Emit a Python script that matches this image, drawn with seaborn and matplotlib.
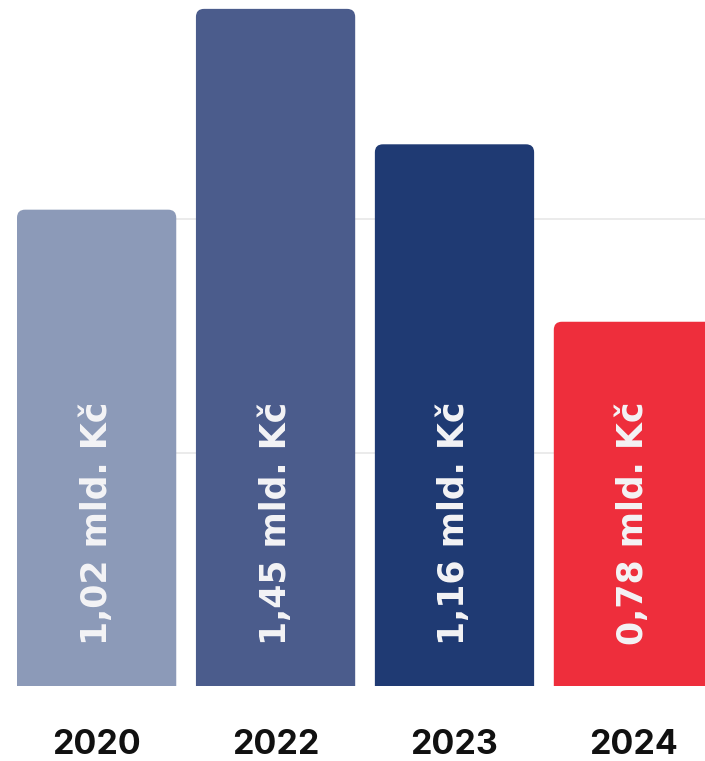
import matplotlib
matplotlib.use("Agg")
import matplotlib.pyplot as plt
import pandas as pd
import seaborn as sns
from matplotlib.patches import FancyBboxPatch

# values (bilions CZK)
years = ['2020', '2022', '2023', '2024']
values = [1.02, 1.45, 1.16, 0.78]
labels = ['1,02 mld. Kč', '1,45 mld. Kč', '1,16 mld. Kč', '0,78 mld. Kč']
colors = ['#8c9ab8', '#4b5c8c', '#1f3a73', '#ee2e3c']
grid_levels = [0.5, 1.0]

df = pd.DataFrame({'year': years, 'value': values})

sns.set_style('white')
plt.rcParams['font.family'] = ['DejaVu Sans']

fig = plt.figure(figsize=(7.05, 7.61), dpi=100)
ax = fig.add_axes([0, 75 / 761, 1, 686 / 761])

sns.barplot(data=df, x='year', y='value', hue='year',
            palette=dict(zip(years, colors)), legend=False,
            saturation=1, width=0.89, ax=ax, zorder=3)

# swap the plain bars for ones with rounded tops
for patch in list(ax.patches):
    x0, w, h = patch.get_x(), patch.get_width(), patch.get_height()
    fc = patch.get_facecolor()
    patch.remove()
    ax.add_patch(FancyBboxPatch((x0, -0.1), w, h + 0.1,
                                boxstyle='round,pad=0,rounding_size=0.045',
                                mutation_aspect=0.383, facecolor=fc,
                                edgecolor='none', zorder=3))

for i, lab in enumerate(labels):
    ax.text(i, 0.088, lab, rotation=90, ha='center', va='bottom',
            color='#f4f4f6', fontsize=25, fontweight='bold', zorder=4)

# faint guide lines, starting right of the first bar
ax.hlines(grid_levels, 0.4, 3.4, color='#e9e9e9', linewidth=1.3, zorder=0)

ax.set_xlim(-0.54, 3.40)
ax.set_ylim(0, 1.469)
ax.set_yticks([])
ax.tick_params(axis='x', length=0, pad=31)
for t in ax.get_xticklabels():
    t.set_fontfamily(['Inter', 'DejaVu Sans'])
    t.set_fontweight('bold')
    t.set_fontsize(24.5)
    t.set_color('#111111')
ax.set_xlabel('')
ax.set_ylabel('')
sns.despine(ax=ax, left=True, bottom=True)

fig.savefig('out.png', dpi=100)
